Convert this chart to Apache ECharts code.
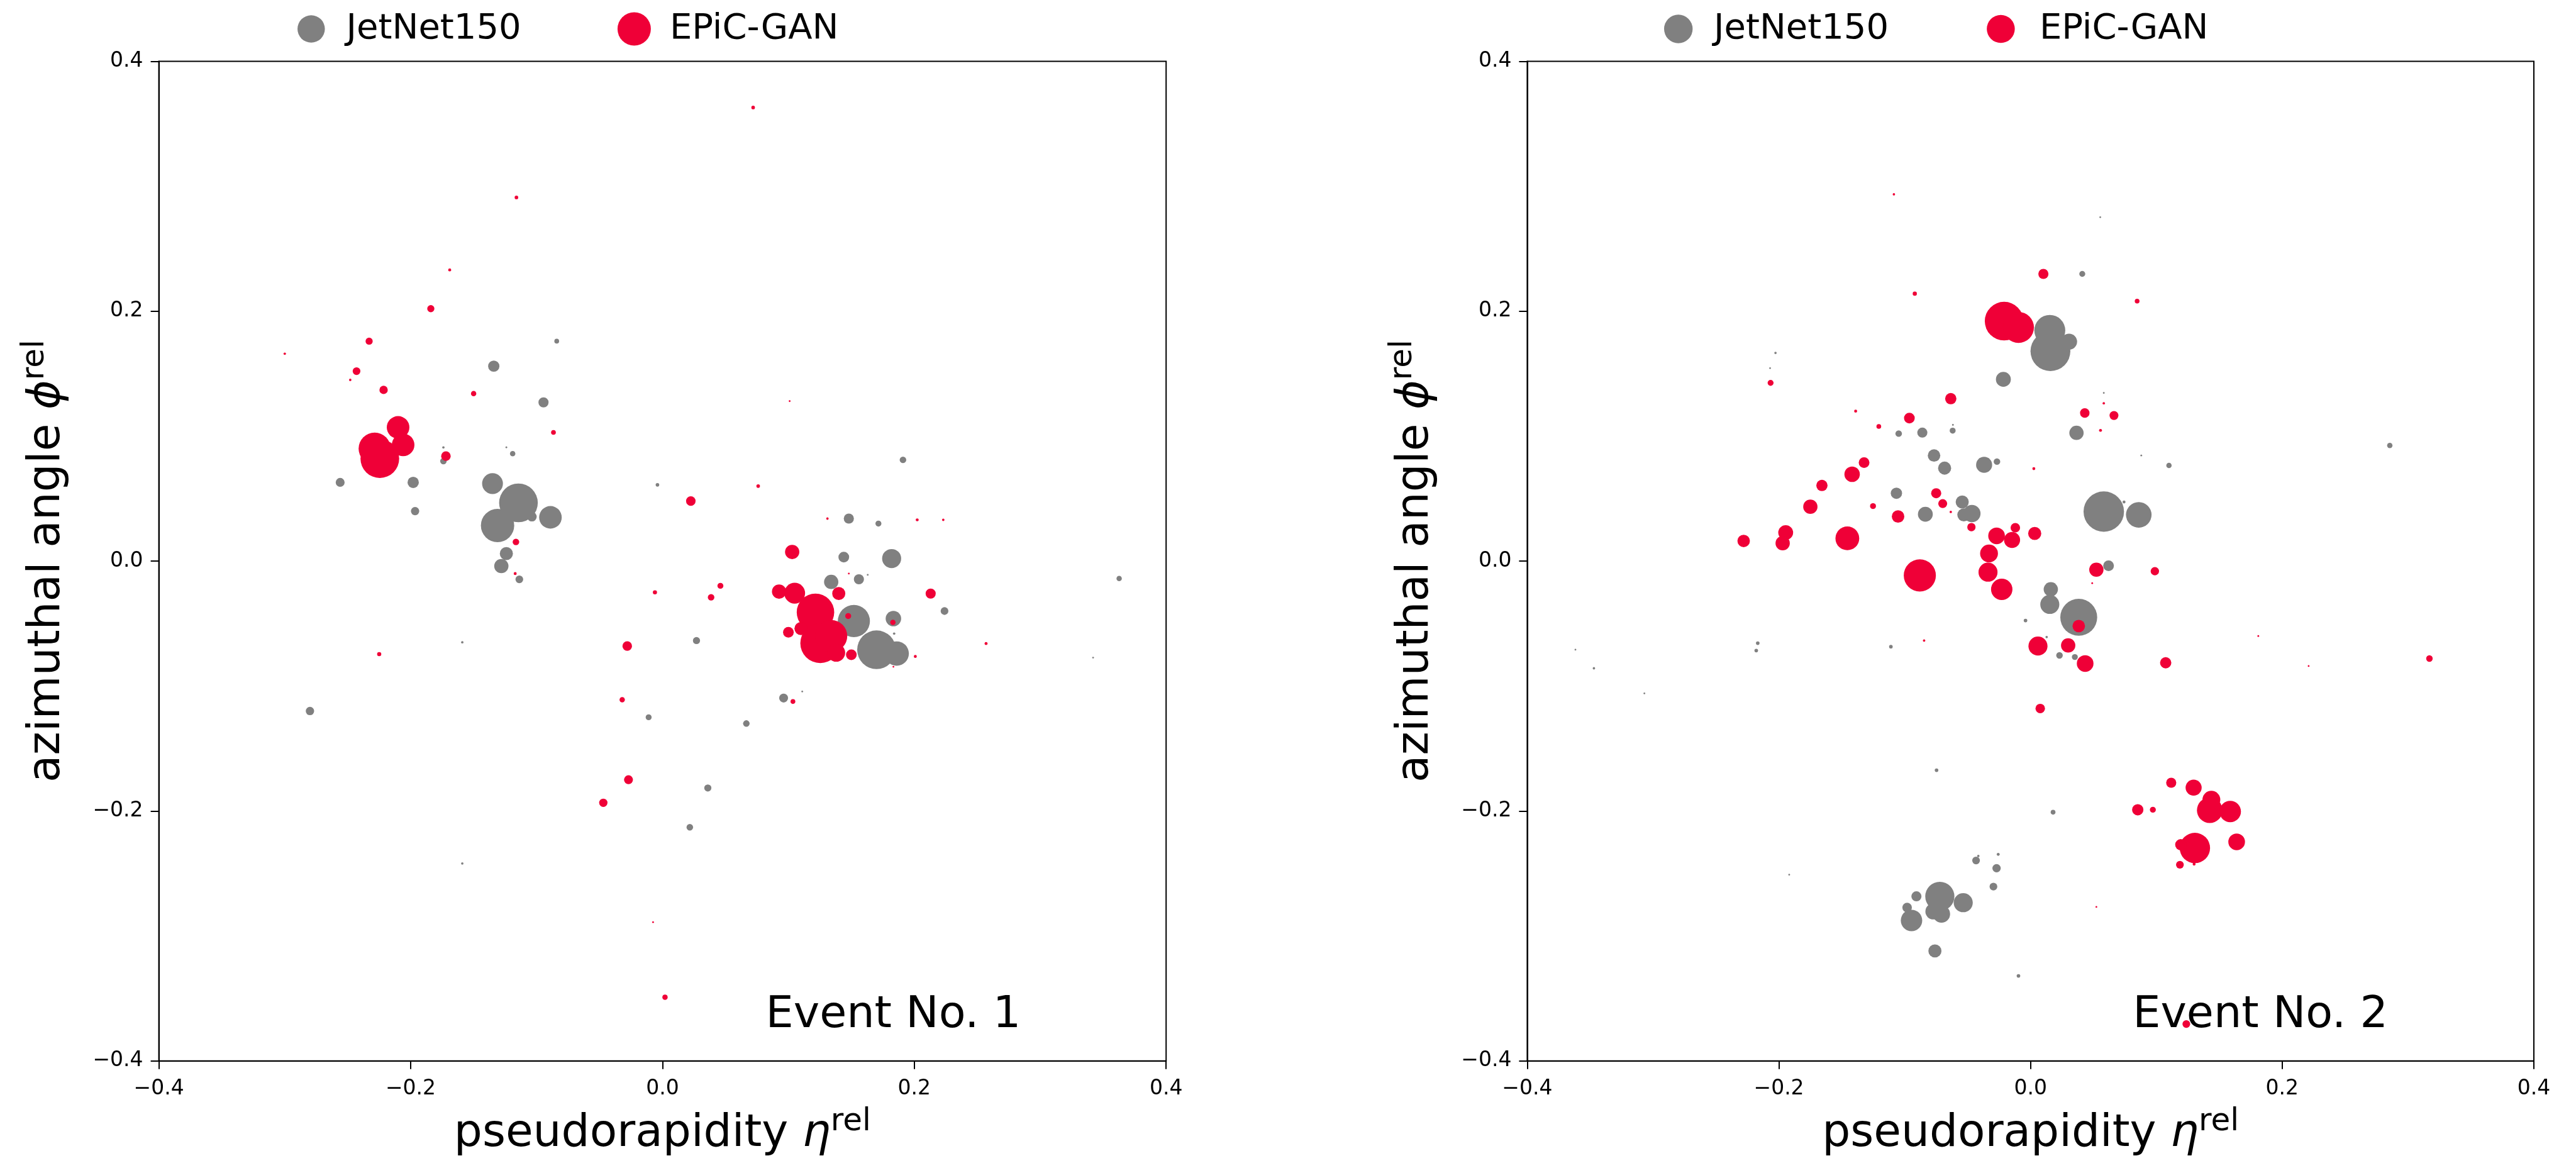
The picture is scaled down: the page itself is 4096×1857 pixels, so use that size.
<!DOCTYPE html>
<html>
<head>
<meta charset="utf-8">
<script src="https://cdn.jsdelivr.net/npm/echarts@6/dist/echarts.min.js"></script>
<style>
html, body { margin: 0; padding: 0; background: #fff; }
#main { width: 4096px; height: 1857px; }
</style>
</head>
<body>
<div id="main"></div>
<script>
// constituents: [eta_rel, phi_rel, marker size]
var ev1Jet = [
  [-0.084, 0.176, 8], [-0.134, 0.156, 19], [-0.0945, 0.127, 17], [-0.174, 0.091, 4],
  [-0.174, 0.080, 11], [-0.124, 0.091, 3], [-0.119, 0.086, 9], [-0.256, 0.063, 15],
  [-0.198, 0.063, 19], [-0.1965, 0.040, 14], [-0.004, 0.061, 6], [-0.135, 0.062, 35],
  [-0.1144, 0.0466, 65], [-0.131, 0.0285, 56], [-0.089, 0.035, 38], [-0.1037, 0.0355, 16],
  [-0.124, 0.006, 22], [-0.128, -0.004, 24], [-0.1137, -0.0146, 13], [-0.159, -0.065, 4],
  [-0.280, -0.120, 14], [-0.011, -0.125, 10], [-0.159, -0.242, 4], [0.191, 0.081, 11],
  [0.148, 0.034, 17], [0.1715, 0.030, 10], [0.144, 0.0032, 18], [0.182, 0.002, 32],
  [0.163, -0.011, 3], [0.156, -0.0146, 17], [0.134, -0.0167, 24], [0.224, -0.040, 13],
  [0.152, -0.048, 54], [0.1834, -0.046, 26], [0.184, -0.058, 4], [0.170, -0.071, 65],
  [0.186, -0.074, 41], [0.342, -0.0773, 3], [0.3627, -0.014, 9], [0.027, -0.0636, 12],
  [0.0962, -0.1096, 15], [0.111, -0.1044, 3], [0.0666, -0.130, 11], [0.036, -0.1816, 12],
  [0.0217, -0.213, 11]
];
var ev1Epic = [
  [-0.116, 0.291, 6], [-0.169, 0.233, 5], [-0.184, 0.202, 12], [-0.233, 0.176, 12],
  [-0.300, 0.166, 4], [-0.243, 0.152, 13], [-0.248, 0.145, 4], [-0.2215, 0.137, 14],
  [-0.150, 0.134, 9], [-0.0866, 0.103, 8], [-0.2286, 0.090, 54], [-0.2245, 0.082, 65],
  [-0.210, 0.107, 38], [-0.206, 0.093, 38], [-0.172, 0.084, 16], [-0.1164, 0.0153, 11],
  [-0.117, -0.010, 5], [-0.006, -0.025, 7], [-0.225, -0.0745, 7], [-0.028, -0.068, 16],
  [-0.032, -0.111, 9], [-0.027, -0.175, 15], [-0.047, -0.1934, 14], [-0.0075, -0.289, 3],
  [0.002, -0.349, 9], [0.072, 0.363, 6], [0.101, 0.128, 3], [0.076, 0.060, 6],
  [0.0225, 0.048, 16], [0.131, 0.034, 4], [0.2023, 0.033, 5], [0.223, 0.033, 4],
  [0.103, 0.0073, 24], [0.148, -0.010, 3], [0.046, -0.0198, 10], [0.0386, -0.029, 11],
  [0.0926, -0.0244, 24], [0.105, -0.0257, 35], [0.140, -0.026, 22], [0.213, -0.026, 17],
  [0.1215, -0.041, 63], [0.1253, -0.0657, 67], [0.134, -0.060, 54], [0.138, -0.0734, 30],
  [0.110, -0.054, 22], [0.100, -0.057, 18], [0.150, -0.075, 18], [0.1475, -0.044, 10],
  [0.183, -0.049, 9], [0.2008, -0.0763, 5], [0.1834, -0.0846, 3], [0.257, -0.066, 5],
  [0.1036, -0.1124, 8]
];
var ev2Jet = [
  [-0.2027, 0.1666, 4], [-0.207, 0.1544, 3], [-0.0216, 0.1454, 25], [-0.1048, 0.102, 11],
  [-0.086, 0.1028, 17], [-0.0617, 0.109, 3], [-0.0619, 0.1044, 10], [-0.0767, 0.0845, 21],
  [-0.0683, 0.0744, 22], [-0.0369, 0.077, 27], [-0.0267, 0.0796, 11], [-0.1066, 0.0543, 19],
  [-0.0543, 0.0473, 22], [-0.0466, 0.038, 29], [-0.053, 0.037, 22], [-0.0836, 0.0375, 25],
  [0.0554, 0.2752, 3], [0.0411, 0.2298, 10], [0.0153, 0.1846, 52], [0.0158, 0.168, 67],
  [0.0306, 0.1756, 27], [0.0582, 0.1346, 3], [0.0365, 0.1026, 24], [0.088, 0.0845, 3],
  [0.110, 0.0765, 9], [0.2855, 0.0925, 9], [0.0582, 0.0396, 68], [0.086, 0.037, 43],
  [0.0743, 0.0473, 5], [0.062, -0.0038, 18], [0.0161, -0.0226, 24], [0.0153, -0.0347, 32],
  [0.0383, -0.045, 62], [0.0128, -0.0608, 4], [0.023, -0.0755, 11], [0.0352, -0.0768, 10],
  [0.0179, -0.201, 8], [-0.004, -0.0476, 6], [-0.111, -0.0685, 6], [-0.3617, -0.0709, 3],
  [-0.347, -0.0858, 4], [-0.2168, -0.0657, 6], [-0.218, -0.0716, 6], [-0.3069, -0.1059, 3],
  [-0.0747, -0.1674, 6], [-0.1918, -0.251, 3], [-0.0433, -0.2396, 13], [-0.0415, -0.236, 4],
  [-0.0257, -0.2347, 5], [-0.027, -0.2458, 14], [-0.0295, -0.2605, 13], [-0.0907, -0.2683, 17],
  [-0.0721, -0.2683, 49], [-0.0535, -0.2734, 32], [-0.0981, -0.2773, 16], [-0.0946, -0.2876, 36],
  [-0.0772, -0.2804, 27], [-0.0708, -0.2825, 29], [-0.076, -0.312, 22], [-0.0096, -0.332, 6]
];
var ev2Epic = [
  [-0.1086, 0.2935, 4], [-0.092, 0.214, 7], [-0.021, 0.192, 65], [-0.0096, 0.187, 52],
  [-0.2066, 0.1426, 10], [-0.0634, 0.130, 19], [-0.139, 0.120, 5], [-0.0963, 0.1144, 18],
  [-0.1206, 0.1077, 8], [-0.1323, 0.0788, 18], [-0.1418, 0.0695, 26], [-0.1658, 0.0605, 19],
  [-0.075, 0.0543, 17], [-0.0698, 0.046, 15], [-0.0634, 0.0393, 4], [-0.175, 0.0435, 24],
  [-0.1252, 0.044, 10], [-0.1053, 0.0357, 21], [-0.047, 0.0272, 14], [-0.027, 0.0202, 28],
  [-0.0121, 0.0267, 16], [-0.0147, 0.0169, 27], [0.0033, 0.0221, 22], [-0.033, 0.0061, 30],
  [-0.088, -0.0115, 54], [-0.228, 0.0161, 21], [-0.1946, 0.0228, 25], [-0.197, 0.0143, 24],
  [-0.1456, 0.0182, 40], [0.0102, 0.2298, 17], [0.0847, 0.208, 8], [0.0582, 0.1263, 4],
  [0.0431, 0.1185, 16], [0.0663, 0.1165, 15], [0.0556, 0.1046, 5], [0.0026, 0.074, 5],
  [0.0523, -0.0069, 24], [0.0988, -0.0081, 14], [0.049, -0.0177, 3], [0.0383, -0.052, 21],
  [0.0059, -0.068, 32], [0.0299, -0.0675, 24], [0.0434, -0.082, 28], [0.1074, -0.0814, 19],
  [0.181, -0.060, 3], [0.221, -0.084, 3], [0.317, -0.078, 11], [0.0077, -0.118, 16],
  [0.1118, -0.1774, 17], [0.1296, -0.1813, 27], [0.1437, -0.191, 30], [0.1424, -0.1994, 43],
  [0.1587, -0.2004, 36], [0.0852, -0.199, 19], [0.0972, -0.199, 10], [0.1306, -0.2296, 51],
  [0.1194, -0.227, 19], [0.1638, -0.2247, 28], [0.1187, -0.243, 13], [0.130, -0.2425, 5],
  [0.0523, -0.2768, 3], [0.1238, -0.3705, 13], [-0.0338, -0.0089, 32], [-0.0229, -0.0226, 36],
  [-0.0846, -0.0636, 4]
];

var seriesNames = ['JetNet150', 'EPiC-GAN'];
var eventLabels = ['Event No. 1', 'Event No. 2'];
var axisMin = -0.4, axisMax = 0.4, axisStep = 0.2;

var S = 0.946;
var FONT = 'DejaVu Sans';
var GRAY = '#808080', RED = '#ef0037';

function tickFmt(v) {
  return v.toFixed(1).replace('-', '\u2212');
}

function nameRich() {
  return {
    fontFamily: FONT,
    color: '#000',
    rich: {
      a: { fontFamily: FONT, fontSize: 71, lineHeight: 90, color: '#000' },
      b: { fontFamily: FONT, fontSize: 71, lineHeight: 90, fontStyle: 'italic', color: '#000' },
      c: { fontFamily: FONT, fontSize: 50, lineHeight: 48, verticalAlign: 'top', color: '#000' }
    }
  };
}

function makeAxis(idx, isX) {
  return {
    type: 'value',
    gridIndex: idx,
    min: axisMin,
    max: axisMax,
    interval: axisStep,
    name: isX ? '{a|pseudorapidity }{b|\u03b7}{c|rel}' : '{a|azimuthal angle }{b|\u03d5}{c|rel}',
    nameLocation: 'middle',
    nameGap: isX ? 72 : 132,
    nameTextStyle: nameRich(),
    axisLine: { show: true, onZero: false, lineStyle: { color: '#000', width: 2 } },
    axisTick: { show: true, inside: false, length: 13, lineStyle: { color: '#000', width: 2 } },
    axisLabel: {
      fontFamily: FONT, fontSize: 33, color: '#000',
      margin: isX ? 28 : 25,
      formatter: tickFmt
    },
    splitLine: { show: false }
  };
}

function scatter(name, data, idx, color) {
  return {
    type: 'scatter',
    name: name,
    xAxisIndex: idx,
    yAxisIndex: idx,
    data: data,
    symbol: 'circle',
    symbolSize: function (v) { return v[2] * S; },
    itemStyle: { color: color, opacity: 1 },
    emphasis: { disabled: true },
    silent: true
  };
}

// the legend box starts at the drawn circle, so 'left' is the circle's left edge;
// itemWidth sets where the label begins (centre + w/2 + 5)
function legendItem(name, cx, d, w) {
  return {
    data: [name],
    left: cx - d / 2,
    top: 18,
    padding: 0,
    itemWidth: w,
    itemHeight: d,
    icon: 'circle',
    selectedMode: false,
    textStyle: { fontFamily: FONT, fontSize: 56, color: '#000' }
  };
}

var grids = [
  { left: 252.6, top: 97.4, width: 1601.6, height: 1589.3 },
  { left: 2428.4, top: 97.4, width: 1600.6, height: 1589.3 }
];

var option = {
  backgroundColor: '#fff',
  animation: false,
  grid: grids.map(function (g) {
    return { left: g.left, top: g.top, width: g.width, height: g.height,
      show: true, borderColor: '#000', borderWidth: 2, backgroundColor: 'transparent' };
  }),
  xAxis: [makeAxis(0, true), makeAxis(1, true)],
  yAxis: [makeAxis(0, false), makeAxis(1, false)],
  legend: [
    legendItem(seriesNames[0], 494.8, 43.5, 101.6),
    legendItem(seriesNames[1], 1008.4, 53, 103),
    legendItem(seriesNames[0], 2668.7, 45.4, 102.6),
    legendItem(seriesNames[1], 3181.4, 44.5, 113)
  ],
  series: [
    scatter(seriesNames[0], ev1Jet, 0, GRAY),
    scatter(seriesNames[1], ev1Epic, 0, RED),
    scatter(seriesNames[0], ev2Jet, 1, GRAY),
    scatter(seriesNames[1], ev2Epic, 1, RED)
  ],
  graphic: [
    { type: 'text', x: 1623.3, y: 1615, z: 100,
      style: { text: eventLabels[0], fontFamily: FONT, fontSize: 70, fill: '#000', align: 'right', verticalAlign: 'middle' } },
    { type: 'text', x: 3797, y: 1615, z: 100,
      style: { text: eventLabels[1], fontFamily: FONT, fontSize: 70, fill: '#000', align: 'right', verticalAlign: 'middle' } }
  ]
};

var chart = echarts.init(document.getElementById('main'));
chart.setOption(option);
</script>
</body>
</html>
